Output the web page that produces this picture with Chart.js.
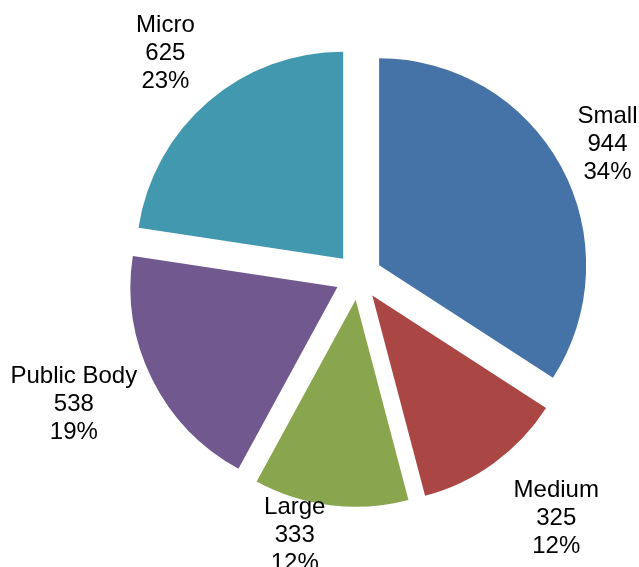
<!DOCTYPE html>
<html>
<head>
<meta charset="utf-8">
<script src="https://cdn.jsdelivr.net/npm/chart.js@4.4.0/dist/chart.umd.min.js"></script>
<style>
  html, body { margin: 0; padding: 0; background: #fff; }
  #wrap { width: 639px; height: 567px; }
</style>
</head>
<body>
<div id="wrap"><canvas id="pieChart" width="639" height="567"></canvas></div>
<script>
const categories = ['Small', 'Medium', 'Large', 'Public Body', 'Micro'];
const counts = [944, 325, 333, 538, 625];
const sliceColors = ['#4572A7', '#AA4643', '#89A54E', '#71588F', '#4198AF'];

// every slice is pulled out from the centre by the same distance
const explodePlugin = {
  id: 'explode',
  beforeDatasetDraw(chart, args, opts) {
    const ctx = chart.ctx;
    args.meta.data.forEach(arc => {
      const mid = (arc.startAngle + arc.endAngle) / 2;
      ctx.save();
      ctx.translate(Math.cos(mid) * opts.distance, Math.sin(mid) * opts.distance);
      arc.draw(ctx);
      ctx.restore();
    });
    return false; // skip the default drawing, already done above
  }
};

// name / count / percent written outside each slice
const outsideLabels = {
  id: 'outsideLabels',
  afterDraw(chart, args, opts) {
    const ctx = chart.ctx;
    const values = chart.data.datasets[0].data;
    const total = values.reduce((a, b) => a + b, 0);
    ctx.save();
    ctx.font = opts.font;
    ctx.fillStyle = opts.color;
    ctx.textAlign = 'center';
    ctx.textBaseline = 'middle';
    chart.getDatasetMeta(0).data.forEach((arc, i) => {
      const lines = [
        chart.data.labels[i],
        String(values[i]),
        Math.round(values[i] / total * 100) + '%'
      ];
      const w = Math.max(...lines.map(t => ctx.measureText(t).width));
      const h = lines.length * opts.lineHeight;
      const mid = (arc.startAngle + arc.endAngle) / 2;
      const dx = Math.cos(mid), dy = Math.sin(mid);
      const dist = arc.outerRadius + opts.distance;
      const nudge = opts.nudge[i] || [0, 0];
      const cx = arc.x + dx * dist + dx * w / 2 + nudge[0];
      const cy = arc.y + dy * dist + dy * h / 2 + nudge[1];
      lines.forEach((t, k) => {
        ctx.fillText(t, cx, cy + (k - (lines.length - 1) / 2) * opts.lineHeight);
      });
    });
    ctx.restore();
  }
};

new Chart(document.getElementById('pieChart'), {
  type: 'pie',
  data: {
    labels: categories,
    datasets: [{
      data: counts,
      backgroundColor: sliceColors,
      borderWidth: 0,
      hoverOffset: 0
    }]
  },
  options: {
    responsive: false,
    animation: false,
    events: [],
    radius: 207,
    layout: { padding: { left: 78, right: 0, top: 0, bottom: 14 } },
    plugins: {
      legend: { display: false },
      tooltip: { enabled: false },
      explode: { distance: 23.5 },
      outsideLabels: {
        font: '24px "Liberation Sans", Arial, sans-serif',
        color: '#000',
        lineHeight: 28,
        distance: 43,
        nudge: [[3, 7], [26, 5], [-30, -31], [-4, -2], [-11, -2]]
      }
    }
  },
  plugins: [explodePlugin, outsideLabels]
});
</script>
</body>
</html>
